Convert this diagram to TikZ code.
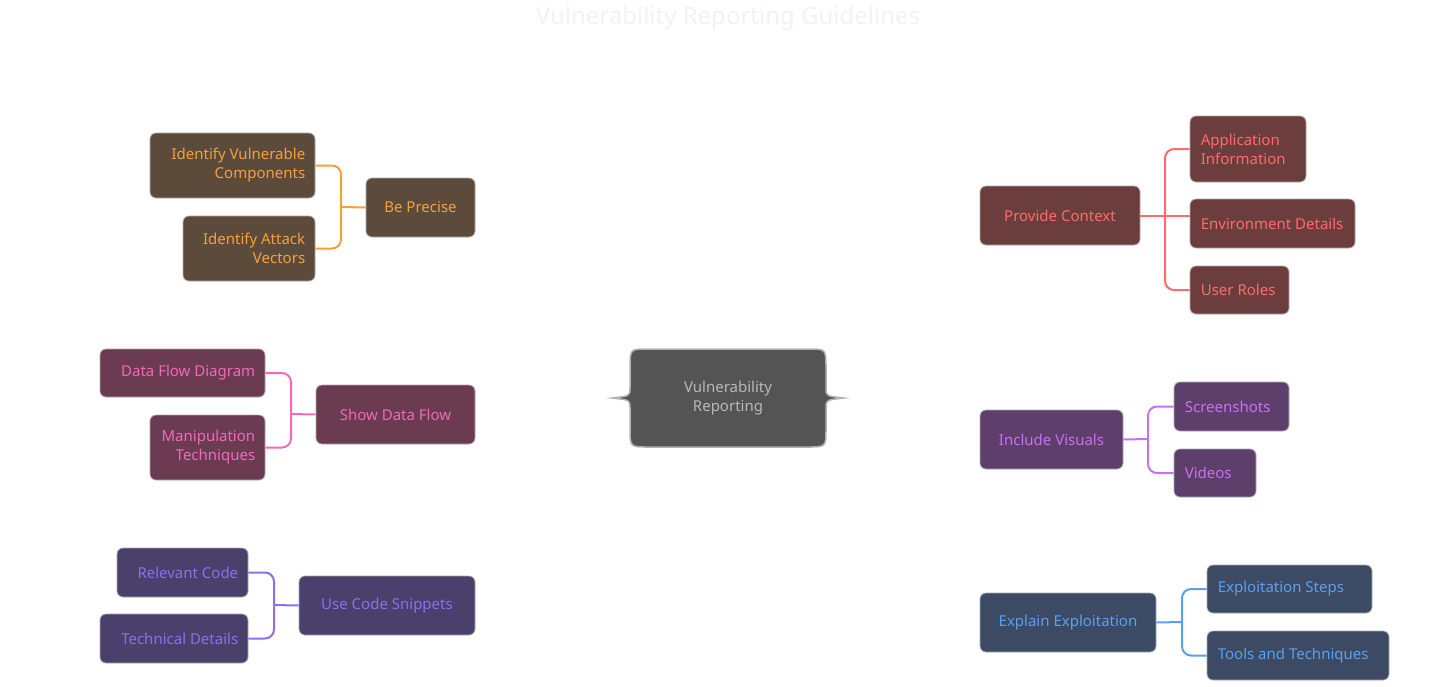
\documentclass[tikz,border=0pt]{standalone}
\usepackage{fontspec}
\setmainfont{Noto Sans}
\begin{document}
\begin{tikzpicture}[x=1pt,y=-1pt,
 box/.style={draw=#1!60!black!40,line width=0.8pt,rounded corners=6pt,inner sep=0pt,font=\fontsize{15}{18}\selectfont},
 conn/.style={line width=2pt,rounded corners=9pt}]
\useasboundingbox (0,0) rectangle (1456,686);
\definecolor{bro}{HTML}{5C4A3A}\definecolor{ora}{HTML}{F5A03C}
\definecolor{pkf}{HTML}{6B3B52}\definecolor{pkt}{HTML}{F06AB8}
\definecolor{vif}{HTML}{4B3F6B}\definecolor{vit}{HTML}{8C6EF0}
\definecolor{ref}{HTML}{6B3D3D}\definecolor{ret}{HTML}{FF6B6B}
\definecolor{puf}{HTML}{5E3F6B}\definecolor{put}{HTML}{C870F0}
\definecolor{blf}{HTML}{3D4A63}\definecolor{blt}{HTML}{5AA0F0}
\newcommand\bx[7]{\node[box=#6,fill=#6,text=#7,minimum width={#3-#2},minimum height={#5-#4},align=right,anchor=center] (#1) at ({(#2+#3)/2},{(#4+#5)/2}) {};}
\node[font=\bfseries\fontsize{24}{28}\selectfont,text=black!5] (title) at (728,18) {Vulnerability Reporting Guidelines};
% center
\fill[black!67] (648,349) -- (808,349) .. controls (826,349) .. (826,368) -- (826,388) .. controls (826,396) .. (844,398) .. controls (826,400) .. (826,408) -- (826,428) .. controls (826,447) .. (808,447) -- (648,447) .. controls (630,447) .. (630,428) -- (630,408) .. controls (630,400) .. (612,398) .. controls (630,396) .. (630,388) -- (630,368) .. controls (630,349) .. (648,349) -- cycle;
\draw[black!30,line width=1.5pt] (648,349) -- (808,349) .. controls (826,349) .. (826,368) -- (826,388) .. controls (826,396) .. (844,398) .. controls (826,400) .. (826,408) -- (826,428) .. controls (826,447) .. (808,447) -- (648,447) .. controls (630,447) .. (630,428) -- (630,408) .. controls (630,400) .. (612,398) .. controls (630,396) .. (630,388) -- (630,368) .. controls (630,349) .. (648,349) -- cycle;
\node[font=\bfseries\fontsize{15}{19}\selectfont,text=black!28,align=center] (c) at (728,398) {Vulnerability\\Reporting};
% boxes
\bx{bp}{366}{475}{178}{237}{bro}{ora}
\bx{ivc}{150}{315}{133}{198}{bro}{ora}
\bx{iav}{183}{315}{216}{281}{bro}{ora}
\bx{sdf}{316}{475}{385}{444}{pkf}{pkt}
\bx{dfd}{100}{265}{349}{397}{pkf}{pkt}
\bx{mt}{150}{265}{415}{480}{pkf}{pkt}
\bx{ucs}{299}{475}{576}{635}{vif}{vit}
\bx{rc}{117}{248}{548}{597}{vif}{vit}
\bx{td}{100}{248}{614}{663}{vif}{vit}
\bx{pc}{980}{1140}{186}{245}{ref}{ret}
\bx{ai}{1190}{1306}{116}{182}{ref}{ret}
\bx{ed}{1190}{1355}{199}{248}{ref}{ret}
\bx{ur}{1190}{1289}{266}{314}{ref}{ret}
\bx{iv}{980}{1123}{410}{469}{puf}{put}
\bx{ss}{1174}{1289}{382}{431}{puf}{put}
\bx{vd}{1174}{1256}{449}{497}{puf}{put}
\bx{ee}{980}{1156}{593}{652}{blf}{blt}
\bx{es}{1207}{1372}{565}{613}{blf}{blt}
\bx{tt}{1207}{1389}{631}{680}{blf}{blt}
% texts
\tikzset{lt/.style={font=\fontsize{15}{19}\selectfont,align=right,anchor=east,inner sep=0pt},
 rt/.style={font=\fontsize{15}{19}\selectfont,align=left,anchor=west,inner sep=0pt},
 mt/.style={font=\fontsize{15}{19}\selectfont,inner sep=0pt}}
\node[mt,text=ora] at (bp) {Be Precise};
\node[lt,text=ora] at ([xshift=-10pt]ivc.east) {Identify Vulnerable\\Components};
\node[lt,text=ora] at ([xshift=-10pt]iav.east) {Identify Attack\\Vectors};
\node[mt,text=pkt] at (sdf) {Show Data Flow};
\node[lt,text=pkt] at ([xshift=-10pt]dfd.east) {Data Flow Diagram};
\node[lt,text=pkt] at ([xshift=-10pt]mt.east) {Manipulation\\Techniques};
\node[mt,text=vit] at (ucs) {Use Code Snippets};
\node[lt,text=vit] at ([xshift=-10pt]rc.east) {Relevant Code};
\node[lt,text=vit] at ([xshift=-10pt]td.east) {Technical Details};
\node[mt,text=ret] at (pc) {Provide Context};
\node[rt,text=ret] at ([xshift=11pt]ai.west) {Application\\Information};
\node[rt,text=ret] at ([xshift=11pt]ed.west) {Environment Details};
\node[rt,text=ret] at ([xshift=11pt]ur.west) {User Roles};
\node[mt,text=put] at (iv) {Include Visuals};
\node[rt,text=put] at ([xshift=11pt]ss.west) {Screenshots};
\node[rt,text=put] at ([xshift=11pt]vd.west) {Videos};
\node[mt,text=blt] at (ee) {Explain Exploitation};
\node[rt,text=blt] at ([xshift=11pt]es.west) {Exploitation Steps};
\node[rt,text=blt] at ([xshift=11pt]tt.west) {Tools and Techniques};
% connectors
\draw[conn,ora] (ivc.east) -| (341,207) |- (iav.east); \draw[conn,ora] (341,207) -- (bp.west);
\draw[conn,pkt] (dfd.east) -| (291,414) |- (mt.east); \draw[conn,pkt] (291,414) -- (sdf.west);
\draw[conn,vit] (rc.east) -| (274,605) |- (td.east); \draw[conn,vit] (274,605) -- (ucs.west);
\draw[conn,ret] (ai.west) -| (1165,215) |- (ur.west); \draw[conn,ret] (pc.east) -- (ed.west |- pc.east);
\draw[conn,put] (ss.west) -| (1148,439) |- (vd.west); \draw[conn,put] (iv.east) -- (1148,439);
\draw[conn,blt] (es.west) -| (1182,622) |- (tt.west); \draw[conn,blt] (ee.east) -- (1182,622);
\end{tikzpicture}
\end{document}
